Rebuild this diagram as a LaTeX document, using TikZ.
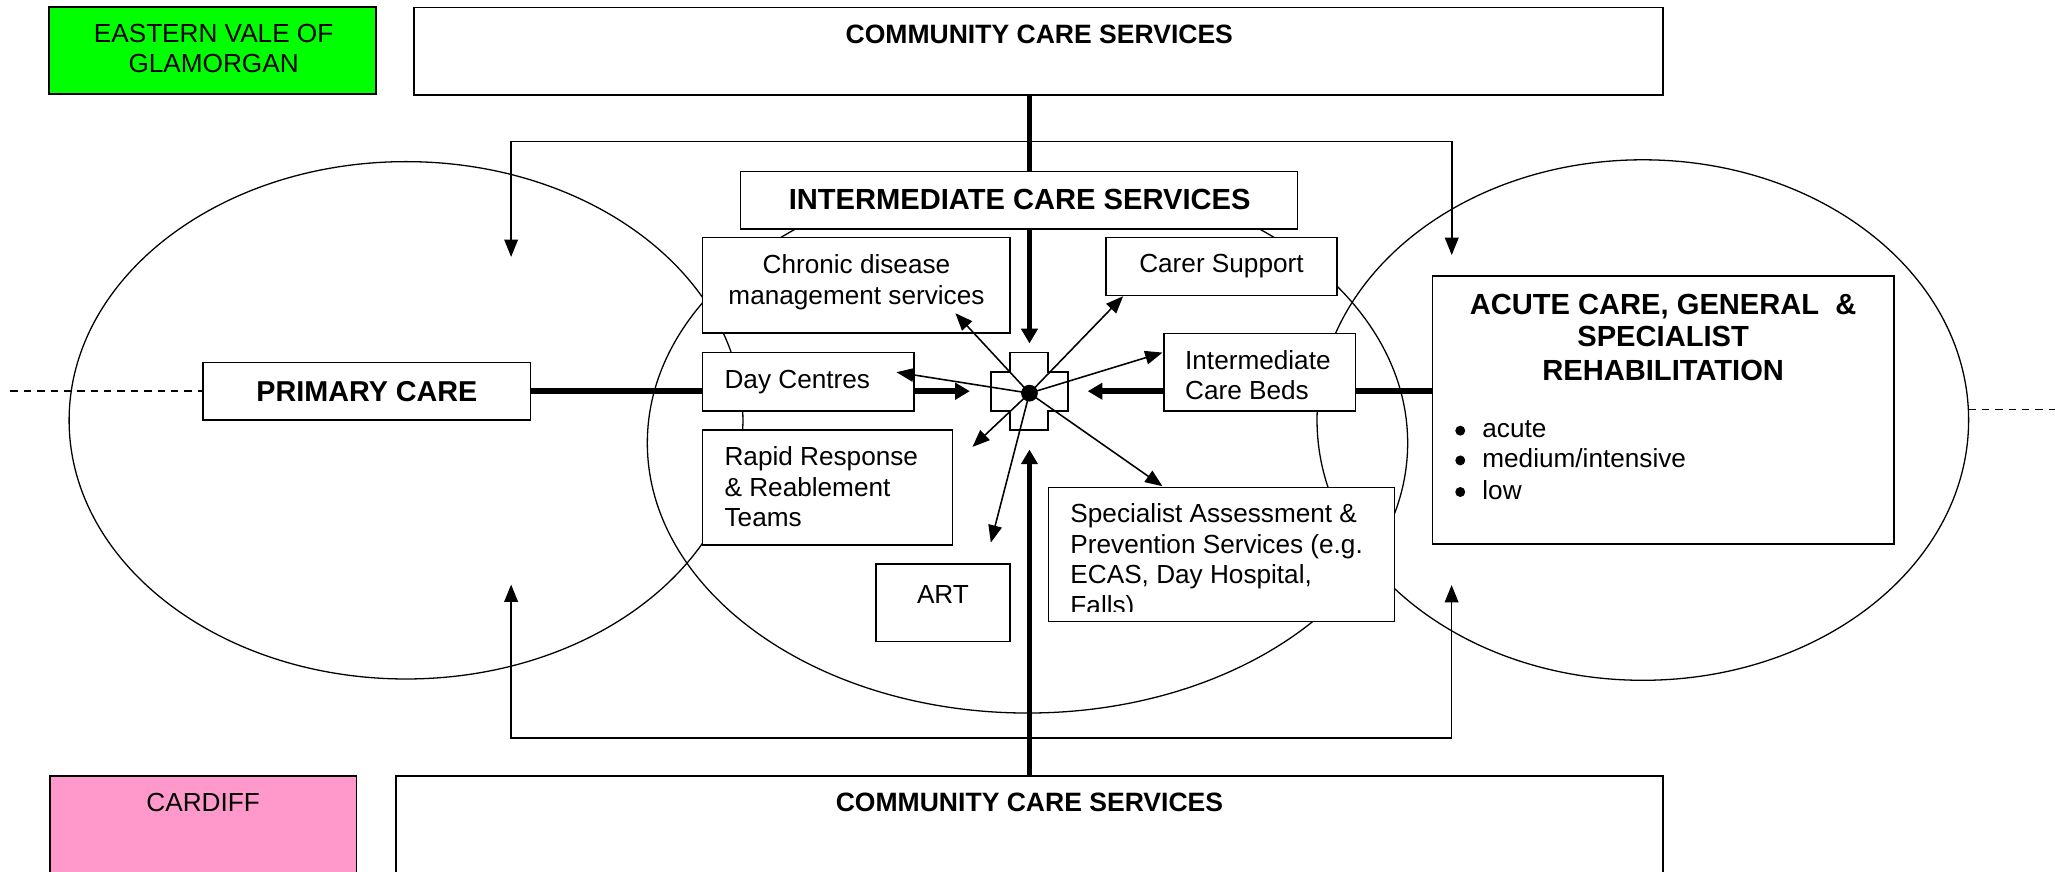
\documentclass[tikz,border=0pt]{standalone}
\usepackage{fontspec}
\setmainfont{Liberation Sans}
\usetikzlibrary{arrows.meta,fit}
\definecolor{vgreen}{RGB}{0,255,0}
\definecolor{vpink}{RGB}{255,153,204}
\begin{document}
\begin{tikzpicture}[x=0.025cm,y=-0.025cm,
  rbox/.style={draw,line width=0.85pt,fill=white,inner sep=0pt},
  txt/.style={inner sep=0pt,font=\fontsize{14.2}{17}\selectfont},
  btxt/.style={inner sep=0pt,font=\fontsize{14.4}{17}\selectfont\bfseries},
  bigb/.style={inner sep=0pt,font=\fontsize{15.8}{18}\selectfont\bfseries},
  ell/.style={line width=0.7pt},
  thinarr/.style={line width=0.85pt,-{Triangle[length=3.3mm,width=2.6mm]}},
  thinboth/.style={line width=0.85pt,{Triangle[length=3.3mm,width=2.6mm]}-{Triangle[length=3.3mm,width=2.6mm]}},
  thk/.style={line width=3pt},
  thkarrow/.style={line width=3pt,-{Triangle[length=2.8mm,width=3.1mm]}},
  dsh/.style={line width=0.8pt,dash pattern=on 1.4mm off 1.15mm},
  bul/.style={circle,fill,inner sep=0pt,minimum size=1.9mm},
]
\useasboundingbox (0,0) rectangle (1568,665);
\clip (0,0) rectangle (1568,665);

% ellipses
\draw[ell] (309.8,320.7) ellipse [x radius=64.25mm, y radius=49.33mm];
\draw[ell] (784,338) ellipse [x radius=72.5mm, y radius=51.5mm];
\draw[ell] (1253.5,320.5) ellipse [x radius=62.13mm, y radius=49.63mm];

% outer loop connectors
\coordinate (rtl) at (390,196);
\coordinate (rtr) at (1107.7,194.6);
\coordinate (rtop) at (0,108);
\draw[thinboth] (rtl) -- (rtl |- rtop) -- (rtr |- rtop) -- (rtr);
\coordinate (rbl) at (390,446);
\coordinate (rbr) at (1107.6,446.4);
\coordinate (rbot) at (0,563);
\draw[thinboth] (rbl) -- (rbl |- rbot) -- (rbr |- rbot) -- (rbr);

% boxes
\node[rbox,fill=vgreen,fit={(37.5,5.3)(287,71.7)}] (vale) {};
\node[rbox,fit={(316,5.6)(1269,72.5)}] (comtop) {};
\node[rbox,fit={(565,131)(990,174.7)}] (ics) {};
\node[rbox,fit={(536,181.3)(770.8,254)}] (chronic) {};
\node[rbox,fit={(843.8,181.3)(1020,225.6)}] (carer) {};
\node[rbox,fit={(536,269)(697.4,313.4)}] (day) {};
\node[rbox,fit={(888,254.6)(1034.4,313.4)}] (beds) {};
\node[rbox,fit={(536,328)(726.7,415.8)}] (rapid) {};
\node[rbox,fit={(668.3,430.5)(770.8,489.6)}] (art) {};
\node[rbox,fit={(800,372)(1064,474.3)}] (spec) {};
\node[rbox,fit={(1093,210.6)(1445,415)}] (acute) {};
\node[rbox,fit={(155,276.5)(404.9,320.5)}] (primary) {};
\node[rbox,fill=vpink,fit={(38,592)(272,700)}] (cardiff) {};
\node[rbox,fit={(302,592)(1269,700)}] (combot) {};

% texts
\node[txt,anchor=base] (valeA) at (163,32.6) {EASTERN VALE OF};
\node[txt,anchor=base] (valeB) at (163,55.5) {GLAMORGAN};
\node[btxt,anchor=base] (comtopT) at (793,33) {COMMUNITY CARE SERVICES};
\node[bigb,anchor=base] (icsT) at (778,160) {INTERMEDIATE CARE SERVICES};
\node[txt,anchor=base] (chronA) at (653.5,209) {Chronic disease};
\node[txt,anchor=base] (chronB) at (653.5,232.6) {management services};
\node[txt,anchor=base] (carerT) at (932,208.3) {Carer Support};
\node[txt,anchor=base west] (dayT) at (552.6,296.3) {Day Centres};
\node[txt,anchor=base west] (bedsA) at (904,281.8) {Intermediate};
\node[txt,anchor=base west] (bedsB) at (904,304.8) {Care Beds};
\node[txt,anchor=base west] (rapA) at (552.6,354.8) {Rapid Response};
\node[txt,anchor=base west] (rapB) at (552.6,378.5) {\& Reablement};
\node[txt,anchor=base west] (rapC) at (552.6,402.1) {Teams};
\node[txt,anchor=base] (artT) at (719.5,460.4) {ART};
\begin{scope}
\clip (800,372) rectangle (1064,466.2);
\node[txt,anchor=base west] (specA) at (816.5,398.8) {Specialist Assessment \&};
\node[txt,anchor=base west] (specB) at (816.5,422.3) {Prevention Services (e.g.};
\node[txt,anchor=base west] (specC) at (816.5,445.5) {ECAS, Day Hospital,};
\node[txt,anchor=base west] (specD) at (816.5,468.8) {Falls)};
\end{scope}
\node[bigb,anchor=base] (acA) at (1269,239.8) {ACUTE CARE, GENERAL\ \ \&};
\node[bigb,anchor=base] (acB) at (1269,264.1) {SPECIALIST};
\node[bigb,anchor=base] (acC) at (1269,290.5) {REHABILITATION};
\node[bul] (b1) at (1114.2,328.6) {};
\node[bul] (b2) at (1114.2,351.3) {};
\node[bul] (b3) at (1114.2,375.4) {};
\node[txt,anchor=base west] (l1) at (1130.8,334) {acute};
\node[txt,anchor=base west] (l2) at (1130.8,356.8) {medium/intensive};
\node[txt,anchor=base west] (l3) at (1130.8,380.8) {low};
\node[inner sep=0pt,font=\fontsize{15.6}{18}\selectfont\bfseries,anchor=base] (primT) at (280,306.5) {PRIMARY CARE};
\node[txt,anchor=base] (cardT) at (155,619.5) {CARDIFF};
\node[btxt,anchor=base] (combotT) at (785.5,619.5) {COMMUNITY CARE SERVICES};

% central cross and hub
\draw[line width=0.85pt,fill=white] (770.6,269) -- (799.6,269) -- (799.6,284) -- (815,284) -- (815,313.5) -- (799.6,313.5) -- (799.6,328) -- (770.6,328) -- (770.6,313.5) -- (756,313.5) -- (756,284) -- (770.6,284) -- cycle;
\node[circle,fill,inner sep=0pt,minimum size=3.2mm] (dot) at (785.5,300) {};

% thick connectors
\coordinate (topTip) at (785.5,262);
\coordinate (botTip) at (785.5,343);
\coordinate (dayTip) at (740,298.5);
\coordinate (bedsTip) at (830,298.5);
\draw[thk] (topTip |- comtop.south) -- (topTip |- ics.north);
\draw[thkarrow] (topTip |- ics.south) -- (topTip);
\draw[thkarrow] (botTip |- combot.north) -- (botTip);
\draw[thk] (primary.east) -- (primary.east -| day.west);
\draw[thkarrow] (primary.east -| day.east) -- (dayTip);
\draw[thk] (beds.east |- dayTip) -- (acute.west |- dayTip);
\draw[thkarrow] (beds.west |- dayTip) -- (bedsTip);

% thin spokes
\coordinate (tChronic) at (729,239);
\coordinate (tCarer) at (857,226);
\coordinate (tBeds) at (887,269);
\coordinate (tDay) at (684,284);
\coordinate (tRapid) at (742,341);
\coordinate (tArt) at (756,414);
\coordinate (tSpec) at (887,371);
\foreach \t in {tChronic,tCarer,tBeds,tDay,tRapid,tArt,tSpec}
  \draw[thinarr] (dot.center) -- (\t);

% dashed lines
\coordinate (dl) at (8,298.5);
\draw[dsh] (dl) -- (primary.west);
\coordinate (dr1) at (1502,312.3);
\coordinate (dr2) at (1568,312.3);
\draw[dsh] (dr1) -- (dr2);
\end{tikzpicture}
\end{document}
